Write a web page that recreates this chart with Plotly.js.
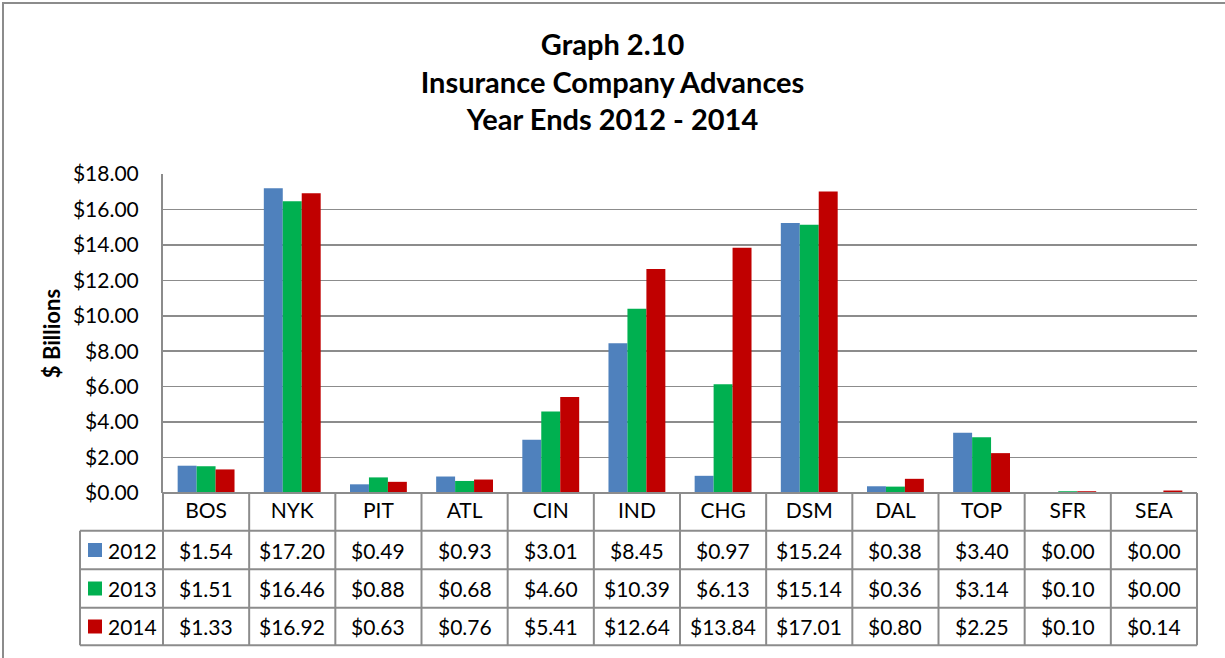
<!DOCTYPE html>
<html>
<head>
<meta charset="utf-8">
<script src="https://cdn.plot.ly/plotly-3.0.1.min.js"></script>
<style>
	body { margin: 0; background: #ffffff; }
	#chart { width: 1225px; height: 658px; }
</style>
</head>
<body>
<div id="chart"></div>
<script>
const districts = ['BOS', 'NYK', 'PIT', 'ATL', 'CIN', 'IND', 'CHG', 'DSM', 'DAL', 'TOP', 'SFR', 'SEA'];
const years = ['2012', '2013', '2014'];
const values2012 = [1.54, 17.20, 0.49, 0.93, 3.01, 8.45, 0.97, 15.24, 0.38, 3.40, 0.00, 0.00];
const values2013 = [1.51, 16.46, 0.88, 0.68, 4.60, 10.39, 6.13, 15.14, 0.36, 3.14, 0.10, 0.00];
const values2014 = [1.33, 16.92, 0.63, 0.76, 5.41, 12.64, 13.84, 17.01, 0.80, 2.25, 0.10, 0.14];
const yearColors = ['#4f81bd', '#00b050', '#c00000'];

const series = [values2012, values2013, values2014];

// plot area in pixels, used to place the data table below it
const PLOT_LEFT = 163, PLOT_RIGHT = 1197, PLOT_TOP = 174, PLOT_BOTTOM = 493;
const W = 1225, H = 658;
function px(x){ return (x - PLOT_LEFT) / (PLOT_RIGHT - PLOT_LEFT); }
function py(y){ return (PLOT_BOTTOM - y) / (PLOT_BOTTOM - PLOT_TOP); }

const FONT = 'Lato, "Open Sans", sans-serif';
const GRID = '#8c8c8c';
const TXT = 21;

const traces = series.map((vals, i) => {
	return {
		x: districts,
		y: vals,
		type: 'bar',
		name: years[i],
		marker: { color: yearColors[i] },
		hoverinfo: 'none'
	};
});

const shapes = [];
const annotations = [];

// outer frame
shapes.push({
	type: 'rect', xref: 'paper', yref: 'paper',
	x0: px(3), x1: px(W + 10), y0: py(H + 10), y1: py(3),
	line: { color: '#8c8c8c', width: 2 }
});

// data table rows
const rowLines = [493, 530.7, 569.3, 607.7, 645.3];
const TABLE_LEFT = 80;
rowLines.forEach((y, i) => {
	shapes.push({
		type: 'line', xref: 'paper', yref: 'paper',
		x0: px(i === 0 ? PLOT_LEFT : TABLE_LEFT), x1: 1,
		y0: py(y), y1: py(y),
		line: { color: GRID, width: 2 }
	});
});
for(var k = 0; k <= districts.length; k++){
	shapes.push({
		type: 'line', xref: 'paper', yref: 'paper',
		x0: k / districts.length, x1: k / districts.length,
		y0: py(rowLines[0]), y1: py(rowLines[4]),
		line: { color: GRID, width: 2 }
	});
}
shapes.push({
	type: 'line', xref: 'paper', yref: 'paper',
	x0: px(TABLE_LEFT), x1: px(TABLE_LEFT),
	y0: py(rowLines[1]), y1: py(rowLines[4]),
	line: { color: GRID, width: 2 }
});

// legend keys and values
years.forEach((yr, i) => {
	const yc = (rowLines[i + 1] + rowLines[i + 2]) / 2;
	shapes.push({
		type: 'rect', xref: 'paper', yref: 'paper',
		x0: px(88), x1: px(102), y0: py(yc + 7), y1: py(yc - 7),
		fillcolor: yearColors[i], line: { width: 0 }
	});
	annotations.push({
		xref: 'paper', yref: 'paper', x: px(106), y: py(yc),
		xanchor: 'left', yanchor: 'middle', showarrow: false,
		text: yr, font: { family: FONT, size: TXT, color: '#000' }
	});
	series[i].forEach((v, j) => {
		annotations.push({
			xref: 'paper', yref: 'paper', x: (j + 0.5) / districts.length, y: py(yc),
			xanchor: 'center', yanchor: 'middle', showarrow: false,
			text: '$' + v.toFixed(2), font: { family: FONT, size: TXT, color: '#000' }
		});
	});
});

const layout = {
	width: W,
	height: H,
	paper_bgcolor: '#ffffff',
	plot_bgcolor: '#ffffff',
	showlegend: false,
	barmode: 'group',
	bargap: 0.34,
	bargroupgap: 0,
	font: { family: FONT, color: '#000' },
	margin: { l: PLOT_LEFT, r: W - PLOT_RIGHT, t: PLOT_TOP, b: H - PLOT_BOTTOM },
	title: {
		text: '<b>Graph 2.10<br>Insurance Company Advances<br>Year Ends 2012 - 2014</b>',
		font: { family: FONT, size: 29, color: '#000' },
		x: 0.5, xanchor: 'center',
		yref: 'container', y: 1 - 55 / H, yanchor: 'top'
	},
	xaxis: {
		type: 'category',
		showgrid: false,
		showline: false,
		zeroline: false,
		ticks: '',
		ticklabelstandoff: 3,
		tickfont: { family: FONT, size: TXT, color: '#000' },
		fixedrange: true
	},
	yaxis: {
		range: [0, 18],
		dtick: 2,
		tickprefix: '$',
		tickformat: '.2f',
		showgrid: true,
		gridcolor: GRID,
		gridwidth: 1.5,
		zeroline: false,
		showline: true,
		linecolor: GRID,
		linewidth: 2,
		ticks: '',
		ticklabelstandoff: 18,
		tickfont: { family: FONT, size: TXT, color: '#000' },
		title: {
			text: '<b>$ Billions</b>',
			font: { family: FONT, size: 22, color: '#000' },
			standoff: 6
		},
		fixedrange: true
	},
	shapes: shapes,
	annotations: annotations
};

Plotly.newPlot('chart', traces, layout, { displayModeBar: false, staticPlot: true });
</script>
</body>
</html>
